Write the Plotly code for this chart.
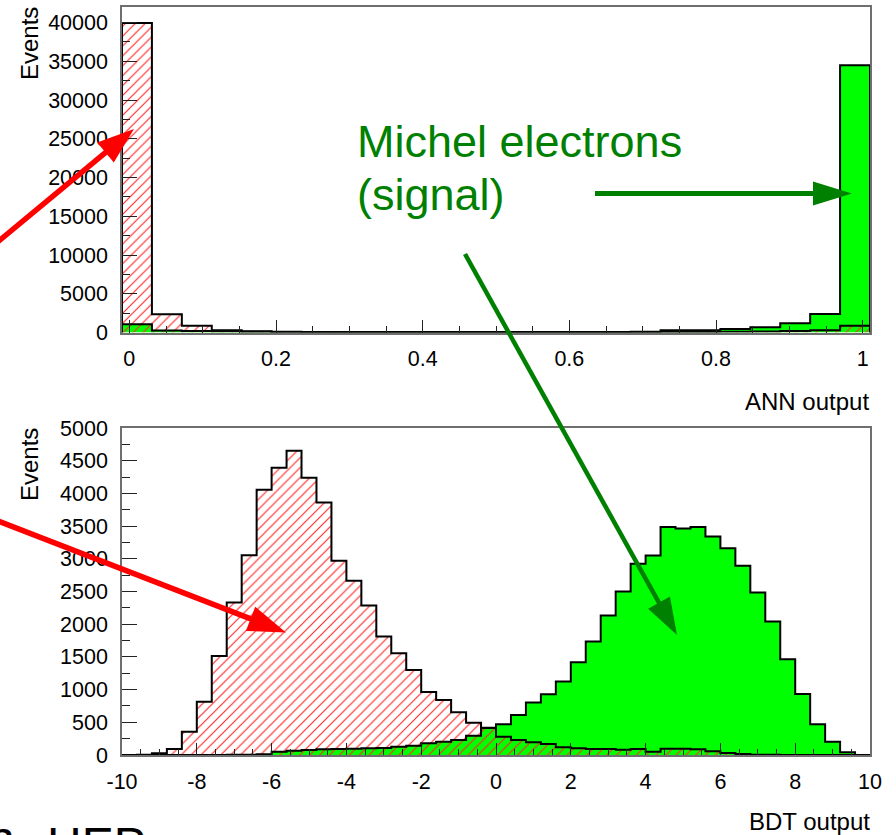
import math
import plotly.graph_objects as go

W, H = 896, 835

# ---- ANN output: 25 bins on [-0.01, 1.01] ----
ann_lo, ann_hi, ann_nbins = -0.01, 1.01, 25
ann_background = [39950, 2370, 880, 300, 160, 110, 80, 70, 60, 50,
                  45, 40, 40, 45, 50, 55, 60, 60, 70, 80,
                  100, 130, 180, 300, 880]
ann_signal = [1080, 250, 180, 150, 90, 70, 60, 55, 50, 50,
              50, 55, 55, 60, 65, 70, 80, 90, 290, 300,
              450, 670, 1190, 2390, 34480]

# ---- BDT output: 50 bins on [-10, 10] ----
bdt_lo, bdt_hi, bdt_nbins = -10.0, 10.0, 50
bdt_background = [0, 3, 25, 92, 357, 815, 1515, 2330, 3056, 4056,
                  4393, 4653, 4240, 3862, 2969, 2663, 2286, 1811, 1556, 1301,
                  965, 842, 655, 495, 412, 280, 229, 194, 168, 120,
                  102, 92, 92, 82, 92, 51, 97, 97, 87, 56,
                  31, 15, 5, 2, 0, 0, 0, 0, 0, 0]
bdt_signal = [0, 0, 0, 0, 0, 0, 0, 2, 5, 10,
              51, 66, 76, 87, 92, 97, 102, 107, 127, 143,
              178, 204, 229, 296, 418, 469, 612, 801, 929, 1122,
              1418, 1735, 2133, 2500, 2923, 3051, 3485, 3464, 3485, 3342,
              3163, 2893, 2485, 2041, 1464, 934, 469, 204, 41, 0]

ann_ticks = [0, 0.2, 0.4, 0.6, 0.8, 1]
bdt_ticks = [-10, -8, -6, -4, -2, 0, 2, 4, 6, 8, 10]

SIG_FILL = "#00ff00"
BKG_HATCH = "#ff2a2a"
DARK_GREEN = "#008000"
FONT = "Liberation Sans, Arial, sans-serif"


def px(x):
    return x / W


def py(y):
    return 1 - y / H


def step_xy(lo, hi, values):
    n = len(values)
    w = (hi - lo) / n
    edges = [lo + i * w for i in range(n + 1)]
    xs = [edges[0]] + edges[:n] + [edges[n]]
    ys = [0] + list(values) + [0]
    return xs, ys


def hist_traces(lo, hi, sig, bkg, xa, ya):
    sx, sy = step_xy(lo, hi, sig)
    bx, by = step_xy(lo, hi, bkg)
    out = [
        go.Scatter(x=sx, y=sy, mode="lines", line=dict(width=0, shape="hv"),
                   fill="tozeroy", fillcolor=SIG_FILL, xaxis=xa, yaxis=ya,
                   hoverinfo="skip", showlegend=False),
        go.Scatter(x=bx, y=by, mode="lines", line=dict(width=0, shape="hv"),
                   fill="tozeroy", fillcolor="rgba(0,0,0,0)",
                   fillpattern=dict(shape="/", fgcolor=BKG_HATCH, size=7,
                                    solidity=0.17, fillmode="replace"),
                   xaxis=xa, yaxis=ya, hoverinfo="skip", showlegend=False),
        go.Scatter(x=sx, y=sy, mode="lines",
                   line=dict(width=2, color="black", shape="hv"),
                   xaxis=xa, yaxis=ya, showlegend=False),
        go.Scatter(x=bx, y=by, mode="lines",
                   line=dict(width=2, color="black", shape="hv"),
                   xaxis=xa, yaxis=ya, showlegend=False),
    ]
    return out


fig = go.Figure()
for t in hist_traces(ann_lo, ann_hi, ann_signal, ann_background, "x", "y"):
    fig.add_trace(t)
for t in hist_traces(bdt_lo, bdt_hi, bdt_signal, bdt_background, "x2", "y2"):
    fig.add_trace(t)

tickfont = dict(family=FONT, size=21.5, color="black")
common = dict(showgrid=False, zeroline=False, showline=True, linecolor="#6f6f6f",
              linewidth=1.5, mirror=True, ticks="inside", tickcolor="#222",
              tickwidth=1.2, tickfont=tickfont, automargin=False)

fig.update_layout(
    template="none",
    width=W, height=H, autosize=False,
    margin=dict(l=0, r=0, t=0, b=0, pad=0),
    paper_bgcolor="white", plot_bgcolor="white",
    xaxis=dict(domain=[px(122), px(870)], range=[ann_lo, ann_hi], anchor="y",
               tickmode="array", tickvals=ann_ticks,
               ticktext=[f"{v:g}" for v in ann_ticks],
               ticklen=13, ticklabelstandoff=6,
               minor=dict(tickmode="linear", tick0=0, dtick=0.05, ticklen=6.5,
                          ticks="inside", tickcolor="#222", tickwidth=1.2),
               **common),
    yaxis=dict(domain=[py(332.5), py(7)], range=[0, 42000], anchor="x",
               tickmode="linear", tick0=0, dtick=5000, tickformat="d",
               ticklen=15, ticklabelstandoff=8,
               minor=dict(tickmode="linear", tick0=0, dtick=2500, ticklen=8,
                          ticks="inside", tickcolor="#222", tickwidth=1.2),
               **common),
    xaxis2=dict(domain=[px(122), px(870)], range=[bdt_lo, bdt_hi], anchor="y2",
                tickmode="array", tickvals=bdt_ticks,
                ticktext=[f"{v:g}" for v in bdt_ticks],
                ticklen=12, ticklabelstandoff=6,
                minor=dict(tickmode="linear", tick0=0, dtick=0.5, ticklen=6.5,
                           ticks="inside", tickcolor="#222", tickwidth=1.2),
                **common),
    yaxis2=dict(domain=[py(755), py(428)], range=[0, 5000], anchor="x2",
                tickmode="linear", tick0=0, dtick=500, tickformat="d",
                ticklen=15, ticklabelstandoff=8,
                minor=dict(tickmode="linear", tick0=0, dtick=250, ticklen=8,
                           ticks="inside", tickcolor="#222", tickwidth=1.2),
                **common),
)

titlefont = dict(family=FONT, size=24, color="black")
annotations = [
    dict(text="Events", x=px(30), y=py(44), textangle=-90,
         xanchor="center", yanchor="middle", font=titlefont),
    dict(text="Events", x=px(30), y=py(465), textangle=-90,
         xanchor="center", yanchor="middle", font=titlefont),
    dict(text="ANN output", x=px(871), y=py(401),
         xanchor="right", yanchor="middle", font=titlefont),
    dict(text="BDT output", x=px(872), y=py(821),
         xanchor="right", yanchor="middle", font=titlefont),
    dict(text="Michel electrons", x=px(355), y=py(141.5),
         xanchor="left", yanchor="middle",
         font=dict(family=FONT, size=45, color=DARK_GREEN)),
    dict(text="(signal)", x=px(355), y=py(194.5),
         xanchor="left", yanchor="middle",
         font=dict(family=FONT, size=45, color=DARK_GREEN)),
    dict(text="n", x=px(17), y=py(838),
         xanchor="right", yanchor="middle",
         font=dict(family=FONT, size=48, color="black")),
    dict(text="HEP", x=px(45), y=py(844),
         xanchor="left", yanchor="middle",
         font=dict(family=FONT, size=48, color="black")),
]
for a in annotations:
    a.update(xref="paper", yref="paper", showarrow=False)
fig.update_layout(annotations=annotations)


def arrow(tail, tip, head_len, head_half, width, color):
    (x0, y0), (x1, y1) = tail, tip
    dx, dy = x1 - x0, y1 - y0
    d = math.hypot(dx, dy)
    ux, uy = dx / d, dy / d
    nx, ny = -uy, ux
    bx, by = x1 - ux * head_len, y1 - uy * head_len
    sx, sy = x1 - ux * (head_len - 3), y1 - uy * (head_len - 3)
    shaft = dict(type="line", xref="paper", yref="paper",
                 x0=px(x0), y0=py(y0), x1=px(sx), y1=py(sy),
                 line=dict(color=color, width=width))
    pts = [(x1, y1), (bx + nx * head_half, by + ny * head_half),
           (bx - nx * head_half, by - ny * head_half)]
    path = "M " + " L ".join(f"{px(a):.5f},{py(b):.5f}" for a, b in pts) + " Z"
    head = dict(type="path", xref="paper", yref="paper", path=path,
                fillcolor=color, line=dict(width=0))
    return [shaft, head]


shapes = []
shapes += arrow((-6, 245), (134, 129), 37, 13, 5.5, "#ff0000")
shapes += arrow((-6, 519.5), (286, 632.5), 38, 13, 5.5, "#ff0000")
shapes += arrow((595, 193.5), (852, 193.5), 39, 12, 5, DARK_GREEN)
shapes += arrow((465, 254), (677, 635), 37, 12.5, 4.5, DARK_GREEN)
fig.update_layout(shapes=shapes)

fig.write_html("out.html")
